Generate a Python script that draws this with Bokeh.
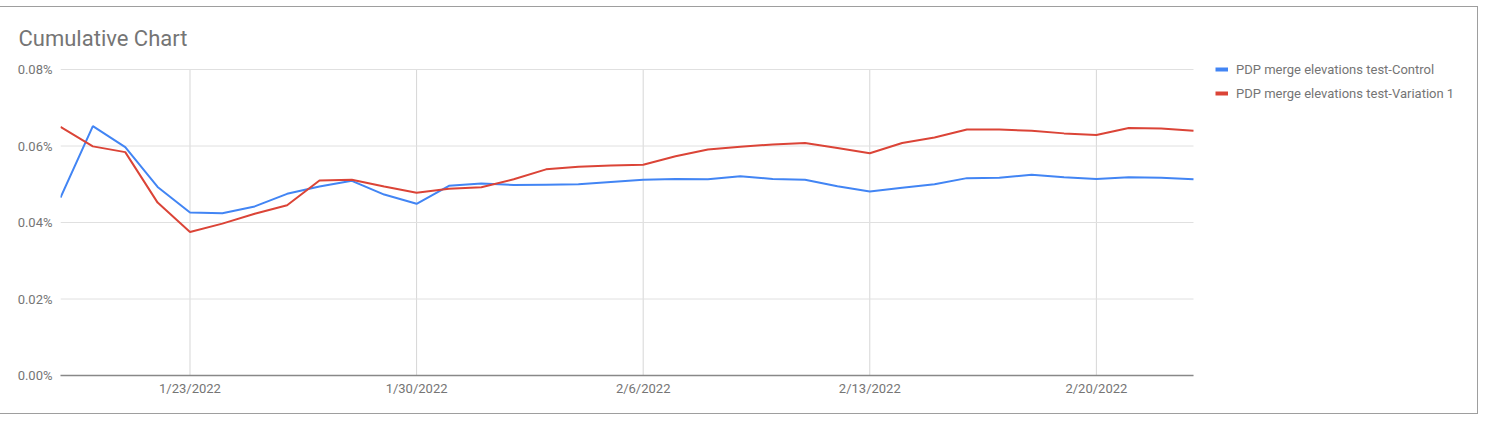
from datetime import datetime, timedelta
from bokeh.plotting import figure
from bokeh.models import (ColumnDataSource, FixedTicker, DatetimeTickFormatter,
                          PrintfTickFormatter, Legend, LegendItem, Range1d)
from bokeh.embed import file_html
from bokeh.resources import INLINE

dates = ["2022-01-19", "2022-01-20", "2022-01-21", "2022-01-22", "2022-01-23",
         "2022-01-24", "2022-01-25", "2022-01-26", "2022-01-27", "2022-01-28",
         "2022-01-29", "2022-01-30", "2022-01-31", "2022-02-01", "2022-02-02",
         "2022-02-03", "2022-02-04", "2022-02-05", "2022-02-06", "2022-02-07",
         "2022-02-08", "2022-02-09", "2022-02-10", "2022-02-11", "2022-02-12",
         "2022-02-13", "2022-02-14", "2022-02-15", "2022-02-16", "2022-02-17",
         "2022-02-18", "2022-02-19", "2022-02-20", "2022-02-21", "2022-02-22",
         "2022-02-23"]

control = [0.0465, 0.0652, 0.0597, 0.0493, 0.0426, 0.0424, 0.0442, 0.0475,
           0.0494, 0.0509, 0.0473, 0.0449, 0.0496, 0.0502, 0.0498, 0.0499,
           0.0500, 0.0506, 0.0512, 0.0514, 0.0513, 0.0521, 0.0514, 0.0512,
           0.0495, 0.0481, 0.0491, 0.0500, 0.0516, 0.0517, 0.0525, 0.0518,
           0.0514, 0.0518, 0.0517, 0.0513]

variation = [0.0650, 0.0599, 0.0584, 0.0452, 0.0375, 0.0397, 0.0423, 0.0445,
             0.0510, 0.0512, 0.0494, 0.0478, 0.0488, 0.0492, 0.0513, 0.0539,
             0.0546, 0.0549, 0.0551, 0.0573, 0.0591, 0.0598, 0.0604, 0.0608,
             0.0595, 0.0581, 0.0608, 0.0622, 0.0643, 0.0643, 0.0640, 0.0633,
             0.0629, 0.0647, 0.0646, 0.0640]

x_tick_dates = ["2022-01-23", "2022-01-30", "2022-02-06", "2022-02-13", "2022-02-20"]
y_ticks = [0.00, 0.02, 0.04, 0.06, 0.08]
series_names = ["PDP merge elevations test-Control", "PDP merge elevations test-Variation 1"]
series_colors = ["#4285F4", "#DB4437"]
title_text = "Cumulative Chart"

FONT = "Roboto"
GRAY = "#757575"

# layout (pixels)
W, H = 1478, 408
LEFT, TOP, BOTTOM = 60, 48, 40
PLOT_W = 1133          # width of the data area (axis/grid extent)
PLOT_TOP = 62          # canvas y of the top gridline (max y tick)
frame_w = W - LEFT
frame_h = H - TOP - BOTTOM

xs = [datetime.strptime(d, "%Y-%m-%d") for d in dates]
tick_dt = [datetime.strptime(d, "%Y-%m-%d") for d in x_tick_dates]
src = ColumnDataSource(data=dict(x=xs, control=control, variation=variation))

span_days = (xs[-1] - xs[0]).total_seconds() / 86400.0
x_end = xs[0] + timedelta(days=span_days * frame_w / PLOT_W)
y_end = y_ticks[-1] * frame_h / (H - BOTTOM - PLOT_TOP)

p = figure(width=W, height=H, x_axis_type="datetime",
           output_backend="svg", toolbar_location=None,
           x_range=Range1d(xs[0], x_end), y_range=Range1d(0, y_end),
           min_border_left=LEFT, min_border_right=0,
           min_border_top=TOP, min_border_bottom=BOTTOM)
p.styles = {"margin-top": "6px",
            "border-top": "1px solid #9e9e9e", "border-right": "1px solid #9e9e9e",
            "border-bottom": "1px solid #9e9e9e"}

p.title.text = title_text
p.title.text_font = FONT
p.title.text_font_size = "22px"
p.title.text_font_style = "normal"
p.title.text_color = GRAY
p.title.align = "left"
p.title.offset = -42
p.title.standoff = 10

p.outline_line_color = None
p.background_fill_color = "white"
p.border_fill_color = "white"

p.xaxis.ticker = FixedTicker(ticks=[t.timestamp() * 1000 for t in tick_dt])
fmt = "%-m/%-d/%Y"
p.xaxis.formatter = DatetimeTickFormatter(days=fmt, months=fmt, years=fmt, hours=fmt,
                                          hourmin=fmt, minutes=fmt, minsec=fmt,
                                          seconds=fmt, milliseconds=fmt,
                                          microseconds=fmt, context=None)
p.xaxis.bounds = (xs[0], xs[-1])
p.yaxis.ticker = FixedTicker(ticks=y_ticks)
p.yaxis.formatter = PrintfTickFormatter(format="%.2f%%")

for ax in (p.xaxis[0], p.yaxis[0]):
    ax.major_tick_line_color = None
    ax.minor_tick_line_color = None
    ax.major_tick_out = 0
    ax.major_tick_in = 0
    ax.minor_tick_out = 0
    ax.minor_tick_in = 0
    ax.major_label_text_font = FONT
    ax.major_label_text_font_size = "13px"
    ax.major_label_text_color = GRAY
p.yaxis.axis_line_color = None
p.yaxis.major_label_standoff = 8
p.xaxis.axis_line_color = "#888888"
p.xaxis.axis_line_width = 1.5
p.xaxis.major_label_standoff = 5

# grid lines limited to the data area
p.xgrid.visible = False
p.ygrid.visible = False
p.segment(x0=tick_dt, y0=[y_ticks[0]] * len(tick_dt),
          x1=tick_dt, y1=[y_ticks[-1]] * len(tick_dt),
          line_color="#d6d6d6", line_width=1)
p.segment(x0=[xs[0]] * len(y_ticks), y0=y_ticks,
          x1=[xs[-1]] * len(y_ticks), y1=y_ticks,
          line_color="#e0e0e0", line_width=1)

p.line("x", "control", source=src, line_color=series_colors[0], line_width=2)
p.line("x", "variation", source=src, line_color=series_colors[1], line_width=2)

# legend swatches (thicker key lines, no visible data)
nan_src = ColumnDataSource(data=dict(x=[xs[0]], y=[float("nan")]))
r1 = p.line("x", "y", source=nan_src, line_color=series_colors[0], line_width=4)
r2 = p.line("x", "y", source=nan_src, line_color=series_colors[1], line_width=4)

legend = Legend(items=[LegendItem(label=series_names[0], renderers=[r1]),
                       LegendItem(label=series_names[1], renderers=[r2])],
                location=(PLOT_W + 22, 272), orientation="vertical",
                border_line_color=None, background_fill_alpha=0,
                padding=0, margin=0, spacing=4,
                glyph_width=13, glyph_height=20, label_height=20,
                label_standoff=8, label_text_font=FONT,
                label_text_font_size="13px", label_text_color=GRAY)
p.add_layout(legend, "center")

open("out.html", "w").write(file_html(p, INLINE))
